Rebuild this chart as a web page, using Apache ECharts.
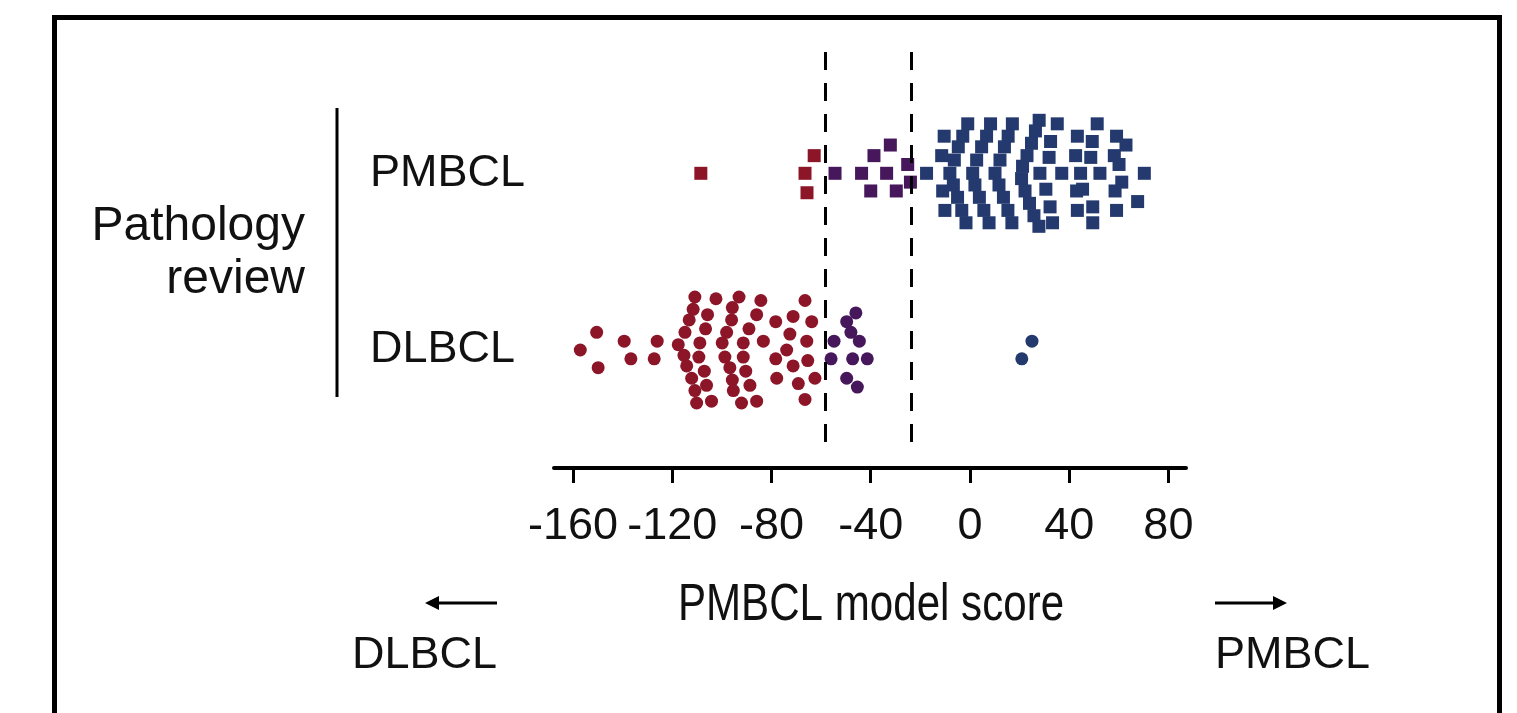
<!DOCTYPE html>
<html>
<head>
<meta charset="utf-8">
<script src="https://cdn.jsdelivr.net/npm/echarts@6/dist/echarts.min.js"></script>
<style>
html,body{margin:0;padding:0;background:#fff;}
#chart{width:1517px;height:713px;}
</style>
</head>
<body>
<div id="chart"></div>
<script>
// ---- data ----
const rows = ['DLBCL', 'PMBCL'];          // pathology review groups (y index)
const tickValues = [-160, -120, -80, -40, 0, 40, 80];
const cutoffs = [-58.2, -23.8];           // model thresholds (dashed lines)
const xTitle = 'PMBCL model score';

// Pathology = PMBCL (squares), coloured by model call
const pmbRedScore  = [-108.5, -62.8, -66.5, -65.7];
const pmbRedJit    = [0, 0.10, 0, -0.11];
const pmbPurScore  = [-54.4, -43.7, -38.7, -32.1, -33.6, -40.0, -29.7, -25.1, -24.0];
const pmbPurJit    = [0, 0, 0.10, 0.16, 0, -0.10, -0.10, 0.05, -0.05];
const pmbBlueScore = [
  -17.5, -10.4, -11.4, -11.0, -10.1,
  -0.9, -2.9, -4.7, -6.3, -8.1, -6.7, -5.0, -3.3, -1.6,
  8.3, 6.7, 4.7, 2.7, 1.1, 2.0, 3.8, 5.6, 7.7,
  17.1, 15.4, 13.9, 12.1, 10.1, 11.7, 13.5, 15.3, 16.9,
  27.9, 26.4, 24.8, 23.0, 21.2, 20.8, 22.2, 24.0, 25.8, 27.8,
  35.2, 51.3, 32.5, 43.3, 49.3, 59.1, 62.9, 31.9, 42.6, 48.7, 58.2, 60.1,
  28.2, 37.0, 44.6, 52.4, 70.3, 61.2, 30.6, 43.0, 45.4, 58.5, 67.6,
  32.3, 43.3, 49.5, 59.1, 33.3, 49.5
];
const pmbBlueJit = [
  0, 0.21, 0.10, -0.10, -0.21,
  0.28, 0.21, 0.15, 0.075, 0, -0.066, -0.136, -0.21, -0.28,
  0.28, 0.21, 0.15, 0.075, 0, -0.066, -0.136, -0.21, -0.28,
  0.28, 0.21, 0.15, 0.075, 0, -0.066, -0.136, -0.21, -0.28,
  0.30, 0.24, 0.17, 0.10, 0.04, -0.03, -0.10, -0.17, -0.24, -0.30,
  0.28, 0.28, 0.18, 0.21, 0.18, 0.21, 0.16, 0.09, 0.10, 0.09, 0.10, 0.05,
  0, 0, 0, 0, 0, -0.05, -0.09, -0.10, -0.09, -0.10, -0.16,
  -0.19, -0.21, -0.19, -0.21, -0.28, -0.28
];

// Pathology = DLBCL (circles), coloured by model call
const dlbRedScore = [
  -157.1, -150.5, -149.9, -139.4, -136.7, -126.1, -127.3,
  -110.9, -111.6, -113.2, -114.9, -117.6, -115.3, -114.2, -112.2, -110.9, -110.2,
  -102.4, -105.8, -106.6, -108.9, -109.3, -107.1, -106.2, -104.2,
  -93.1, -95.8, -96.1, -98.1, -99.9, -98.8, -96.8, -95.8, -95.4, -92.1,
  -84.3, -86.0, -89.1, -91.4, -91.4, -90.4, -88.7, -86.0,
  -83.3, -78.3, -71.3, -72.6, -66.5, -63.8, -65.8, -73.9, -78.3, -65.4, -71.3, -77.9, -69.2, -62.5, -66.5
];
const dlbRedJit = [
  0, 0.10, -0.10, 0.05, -0.05, 0.05, -0.05,
  0.30, 0.23, 0.17, 0.10, 0.03, -0.03, -0.09, -0.16, -0.23, -0.30,
  0.29, 0.20, 0.12, 0.04, -0.04, -0.12, -0.20, -0.29,
  0.30, 0.24, 0.17, 0.10, 0.04, -0.04, -0.10, -0.17, -0.23, -0.30,
  0.28, 0.20, 0.12, 0.04, -0.04, -0.12, -0.20, -0.29,
  0.05, 0.16, 0.19, 0.09, 0.28, 0.16, 0.05, 0, -0.05, -0.06, -0.09, -0.16, -0.19, -0.16, -0.28
];
const dlbPurScore = [-46.0, -49.7, -48.0, -44.6, -54.8, -56.0, -47.3, -41.4, -49.7, -45.4];
const dlbPurJit   = [0.21, 0.16, 0.10, 0.05, 0.05, -0.05, -0.05, -0.05, -0.16, -0.21];
const dlbBlueScore = [20.9, 25.0];
const dlbBlueJit   = [-0.05, 0.05];

// ---- build ----
const RED = '#8c1528', PURPLE = '#46175a', BLUE = '#243a6e';
function pts(scores, jit, row) {
  return scores.map((s, i) => [s, row + jit[i]]);
}
function ser(name, scores, jit, row, symbol, color) {
  return {
    name, type: 'scatter', symbol, symbolSize: 13,
    itemStyle: { color, opacity: 1 },
    data: pts(scores, jit, row), z: 3
  };
}
const font = "'Liberation Sans', Arial, sans-serif";
const chart = echarts.init(document.getElementById('chart'));
const series = [
  ser('PMBCL-red', pmbRedScore, pmbRedJit, 1, 'rect', RED),
  ser('PMBCL-purple', pmbPurScore, pmbPurJit, 1, 'rect', PURPLE),
  ser('PMBCL-blue', pmbBlueScore, pmbBlueJit, 1, 'rect', BLUE),
  ser('DLBCL-red', dlbRedScore, dlbRedJit, 0, 'circle', RED),
  ser('DLBCL-purple', dlbPurScore, dlbPurJit, 0, 'circle', PURPLE),
  ser('DLBCL-blue', dlbBlueScore, dlbBlueJit, 0, 'circle', BLUE)
];
series[0].markLine = {
  silent: true, symbol: 'none', animation: false,
  label: { show: false },
  lineStyle: { color: '#000', width: 3, type: [18, 13] },
  data: cutoffs.map(c => [{ coord: [c, 1.686] }, { coord: [c, -0.594] }])
};

chart.setOption({
  animation: false,
  backgroundColor: '#fff',
  grid: { left: 554, right: 331, top: 40.8, bottom: 245, containLabel: false },
  xAxis: {
    type: 'value', min: -167.7, max: 87.1,
    axisLine: { show: true, onZero: false, lineStyle: { color: '#000', width: 4 } },
    axisTick: { show: true, inside: false, length: 15, lineStyle: { color: '#000', width: 3 }, customValues: tickValues },
    axisLabel: { customValues: tickValues, margin: 36, fontFamily: font, fontSize: 45, color: '#111' },
    splitLine: { show: false }
  },
  yAxis: {
    type: 'value', min: -0.668, max: 1.75,
    axisLine: { show: false }, axisTick: { show: false }, splitLine: { show: false },
    axisLabel: {
      customValues: [0, 1], formatter: v => rows[Math.round(v)],
      align: 'left', margin: 184, fontFamily: font, fontSize: 45, color: '#111'
    }
  },
  graphic: [
    { type: 'polyline', shape: { points: [[54.5, 713], [54.5, 17.5], [1499.5, 17.5], [1499.5, 713]] },
      style: { stroke: '#000', lineWidth: 5, fill: null } },
    { type: 'line', shape: { x1: 337, y1: 108, x2: 337, y2: 397 }, style: { stroke: '#000', lineWidth: 3 } },
    { type: 'text', x: 305, y: 227, style: { text: 'Pathology', fontFamily: font, fontSize: 48, fill: '#111', align: 'right', verticalAlign: 'middle' } },
    { type: 'text', x: 305, y: 280, style: { text: 'review', fontFamily: font, fontSize: 48, fill: '#111', align: 'right', verticalAlign: 'middle' } },
    { type: 'text', x: 871, y: 606, scaleX: 0.81, style: { text: xTitle, fontFamily: font, fontSize: 52, fill: '#111', align: 'center', verticalAlign: 'middle' } },
    { type: 'line', shape: { x1: 436, y1: 603, x2: 497, y2: 603 }, style: { stroke: '#000', lineWidth: 3 } },
    { type: 'polygon', shape: { points: [[425, 603], [439, 596], [439, 610]] }, style: { fill: '#000' } },
    { type: 'line', shape: { x1: 1215, y1: 603, x2: 1276, y2: 603 }, style: { stroke: '#000', lineWidth: 3 } },
    { type: 'polygon', shape: { points: [[1287, 603], [1273, 596], [1273, 610]] }, style: { fill: '#000' } },
    { type: 'text', x: 352, y: 656, style: { text: 'DLBCL', fontFamily: font, fontSize: 45, fill: '#111', align: 'left', verticalAlign: 'middle' } },
    { type: 'text', x: 1215, y: 656, style: { text: 'PMBCL', fontFamily: font, fontSize: 45, fill: '#111', align: 'left', verticalAlign: 'middle' } }
  ],
  series
});
</script>
</body>
</html>
